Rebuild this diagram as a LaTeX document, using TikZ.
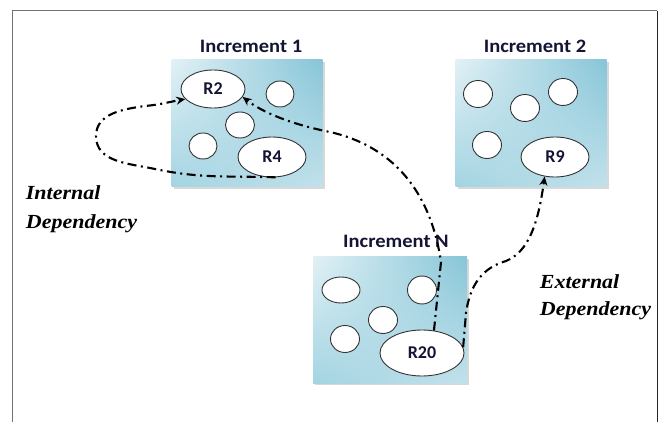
\documentclass[tikz,border=0pt]{standalone}
\usepackage{fontspec}
\setmainfont{Liberation Serif}
\newfontfamily\calib{Carlito}
\usetikzlibrary{arrows.meta,shapes.geometric,shadows,shadings}
\definecolor{boxlight}{HTML}{E2F1F5}
\definecolor{boxdark}{HTML}{86C5D8}
\definecolor{boxmid}{HTML}{A3D4E2}
\definecolor{navy}{HTML}{141434}
\tikzset{
  incbox/.style={rectangle, inner sep=0pt, minimum width=151pt, minimum height=127pt,
    upper left=boxlight, upper right=boxdark, lower left=boxmid, lower right=boxlight!65!boxdark,
    drop shadow={shadow xshift=2pt, shadow yshift=-2pt, fill=black!30}},
  blob/.style={ellipse, draw=black!80, line width=0.9pt, fill=white, inner sep=0pt,
    font=\calib\bfseries\fontsize{18}{18}\selectfont, text=navy},
  inclabel/.style={anchor=base, font=\calib\bfseries\fontsize{19}{19}\selectfont, text=navy, xscale=1.08},
  deplabel/.style={anchor=base west, font=\bfseries\itshape\fontsize{20}{20}\selectfont, xscale=1.1},
  dep/.style={line width=2.1pt, dash pattern=on 9pt off 4.5pt on 2pt off 4.5pt,
    -{Stealth[length=9pt,width=8pt]}}
}
\begin{document}
\begin{tikzpicture}[x=1pt,y=-1pt]
\useasboundingbox (0,0) rectangle (659,422);
% frame
\draw[black!55, line width=1pt] (12,422) -- (12,11) -- (657,11);
\draw[black!85, line width=1pt] (657,11) -- (657,422);

% boxes
\node[incbox] (B1) at (247,123.5) {};
\node[incbox] (B2) at (531,123.5) {};
\node[incbox, minimum width=154pt, minimum height=126pt] (BN) at (390,320) {};

% labels
\node[inclabel] (L1) at (251,53) {Increment 1};
\node[inclabel] (L2) at (535,53) {Increment 2};
\node[inclabel] (LN) at (396,248) {Increment N};

% increment 1 blobs
\node[blob, minimum width=64pt, minimum height=38pt] (R2) at (213,89) {R2};
\node[blob, minimum width=28pt, minimum height=26pt] (c11) at (280,94) {};
\node[blob, minimum width=29pt, minimum height=26pt] (c12) at (240,125) {};
\node[blob, minimum width=28pt, minimum height=26pt] (c13) at (203,146) {};
\node[blob, minimum width=68pt, minimum height=40pt] (R4) at (272,157) {R4};

% increment 2 blobs
\node[blob, minimum width=29pt, minimum height=27pt] (c21) at (478,94) {};
\node[blob, minimum width=29pt, minimum height=27pt] (c22) at (525,108) {};
\node[blob, minimum width=29pt, minimum height=27pt] (c23) at (563,92) {};
\node[blob, minimum width=29pt, minimum height=27pt] (c24) at (487,145) {};
\node[blob, minimum width=68pt, minimum height=40pt] (R9) at (555,157) {R9};

% increment N blobs
\node[blob, minimum width=38pt, minimum height=26pt] (cN1) at (341,290) {};
\node[blob, minimum width=29pt, minimum height=28pt] (cN2) at (422,290) {};
\node[blob, minimum width=29pt, minimum height=27pt] (cN3) at (383,320) {};
\node[blob, minimum width=29pt, minimum height=27pt] (cN4) at (345,339) {};
\node[blob, minimum width=84pt, minimum height=46pt] (R20) at (422,353) {R20};

% dependency labels
\node[deplabel] (t1) at (22,200) {Internal};
\node[deplabel] (t2) at (22,229) {Dependency};
\node[deplabel] (t3) at (536,288) {External};
\node[deplabel] (t4) at (536,316) {Dependency};

% waypoints
\coordinate (w1) at (155,169);
\coordinate (w2) at (96,136);
\coordinate (w3) at (145,106);
\coordinate (v1) at (441,262);
\coordinate (v2) at (330,132);
\coordinate (u1) at (466,313);
\coordinate (u2) at (506,261);

% connectors
\draw[dep] (R4.-80) to[out=178,in=-12] (w1) to[out=168,in=-90] (w2) to[out=90,in=188] (w3) to[out=5,in=190] (R2.200);
\draw[dep] (R20.62) -- (v1) .. controls (432,200) and (400,148) .. (v2) .. controls (290,124) and (262,112) .. (R2.-15);
\draw[dep] (R20.8) -- (u1) .. controls (470,285) and (482,268) .. (u2) .. controls (528,252) and (538,225) .. (R9.-118);
\end{tikzpicture}
\end{document}
